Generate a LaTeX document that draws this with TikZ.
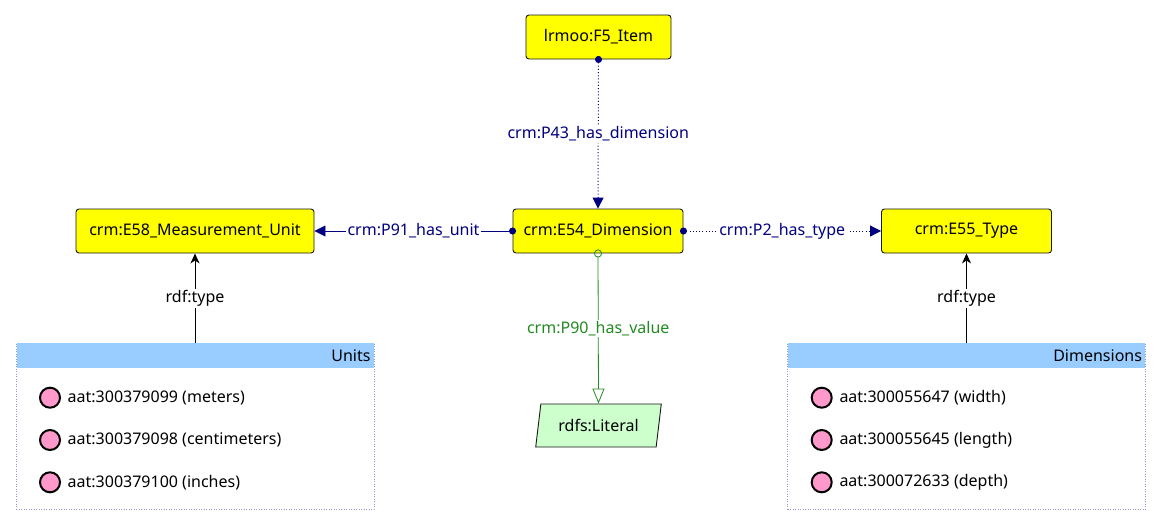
\documentclass[tikz,border=0pt]{standalone}
\usepackage{fontspec}
\setmainfont{Noto Sans}
\usetikzlibrary{arrows.meta,shapes.geometric}
\definecolor{navyc}{RGB}{0,0,128}
\definecolor{greenc}{RGB}{34,139,34}
\definecolor{yellowc}{RGB}{255,255,0}
\definecolor{litc}{RGB}{204,255,204}
\definecolor{headc}{RGB}{153,204,255}
\definecolor{pinkc}{RGB}{255,153,204}
\definecolor{grpc}{RGB}{150,150,205}
\definecolor{borderc}{RGB}{24,24,24}
\tikzset{
  cls/.style={draw=borderc, line width=0.9pt, fill=yellowc, rounded corners=3pt,
    minimum height=44pt, inner sep=0pt, font=\fontsize{16}{19}\selectfont},
  lit/.style={draw=borderc, line width=0.9pt, fill=litc, trapezium, trapezium stretches=true,
    trapezium left angle=74, trapezium right angle=106, minimum width=126pt, minimum height=43pt,
    inner sep=0pt, font=\fontsize{16}{19}\selectfont},
  grp/.style={draw=grpc, line width=0.7pt, dash pattern=on 1pt off 1.5pt, minimum width=358pt,
    minimum height=166pt, inner sep=0pt},
  hdr/.style={fill=headc, minimum width=357pt, minimum height=25pt, inner sep=0pt},
  hdrtxt/.style={font=\fontsize{16}{19}\selectfont, anchor=east, inner sep=0pt},
  itm/.style={circle, draw=black, line width=2pt, fill=pinkc, minimum size=20pt, inner sep=0pt},
  itmtxt/.style={font=\fontsize{16}{19}\selectfont, anchor=west, inner sep=0pt},
  elab/.style={fill=white, inner sep=1.5pt, font=\fontsize{16}{19}\selectfont},
  navyarr/.style={navyc, line width=0.8pt, -{Triangle[width=11pt,length=11pt]}},
  navydot/.style={navyarr, {Circle[length=7pt]}-{Triangle[width=11pt,length=11pt]}, shorten <=-3.5pt},
  dotln/.style={line width=1pt, dash pattern=on 1pt off 2.2pt},
  typearr/.style={black, line width=0.9pt, -{Stealth[width=9pt,length=10pt,inset=3pt]}},
}
\begin{document}
\begin{tikzpicture}[x=1pt,y=-1pt]
\useasboundingbox (0,0) rectangle (1161,525);
% classes
\node[cls, minimum width=145pt] (f5) at (598.5,37) {lrmoo:F5\_Item};
\node[cls, minimum width=170pt] (e54) at (598,231) {crm:E54\_Dimension};
\node[cls, minimum width=238pt] (e58) at (195,231) {crm:E58\_Measurement\_Unit};
\node[cls, minimum width=170pt] (e55) at (966.5,231) {crm:E55\_Type};
\node[lit] (lit) at (598.5,425.5) {rdfs:Literal};
% groups
\node[grp] (units) at (195,426) {};
\node[hdr, anchor=north] (unitsh) at ([yshift=-0.5pt]units.north) {};
\node[hdrtxt] (unitst) at ([xshift=-3pt]unitsh.east) {Units};
\node[itm] (u1) at (50,397.7) {};
\node[itmtxt] (u1t) at (67.5,397.7) {aat:300379099 (meters)};
\node[itm] (u2) at (50,440) {};
\node[itmtxt] (u2t) at (67.5,440) {aat:300379098 (centimeters)};
\node[itm] (u3) at (50,482.3) {};
\node[itmtxt] (u3t) at (67.5,482.3) {aat:300379100 (inches)};
\node[grp] (dims) at (966.5,426) {};
\node[hdr, anchor=north] (dimsh) at ([yshift=-0.5pt]dims.north) {};
\node[hdrtxt] (dimst) at ([xshift=-3pt]dimsh.east) {Dimensions};
\node[itm] (d1) at (821.7,397.7) {};
\node[itmtxt] (d1t) at (839.3,397.7) {aat:300055647 (width)};
\node[itm] (d2) at (821.7,440) {};
\node[itmtxt] (d2t) at (839.3,440) {aat:300055645 (length)};
\node[itm] (d3) at (821.7,482.3) {};
\node[itmtxt] (d3t) at (839.3,482.3) {aat:300072633 (depth)};
% connectors
\draw[navydot, dotln] (f5.south) -- node[elab, text=navyc] {crm:P43\_has\_dimension} (e54.north);
\draw[navydot] (e54.west) -- node[elab, text=navyc] {crm:P91\_has\_unit} (e58.east);
\draw[navydot, dotln] (e54.east) -- node[elab, text=navyc] {crm:P2\_has\_type} (e55.west);
\draw[greenc, line width=0.8pt, {Circle[open,length=8pt]}-{Triangle[open,width=12pt,length=15pt]}, shorten <=-4pt]
  (e54.south) -- node[elab, text=greenc] {crm:P90\_has\_value} (lit.north);
\draw[typearr] (units.north) -- node[elab] {rdf:type} (e58.south);
\draw[typearr] (dims.north) -- node[elab] {rdf:type} (e55.south);
\end{tikzpicture}
\end{document}
